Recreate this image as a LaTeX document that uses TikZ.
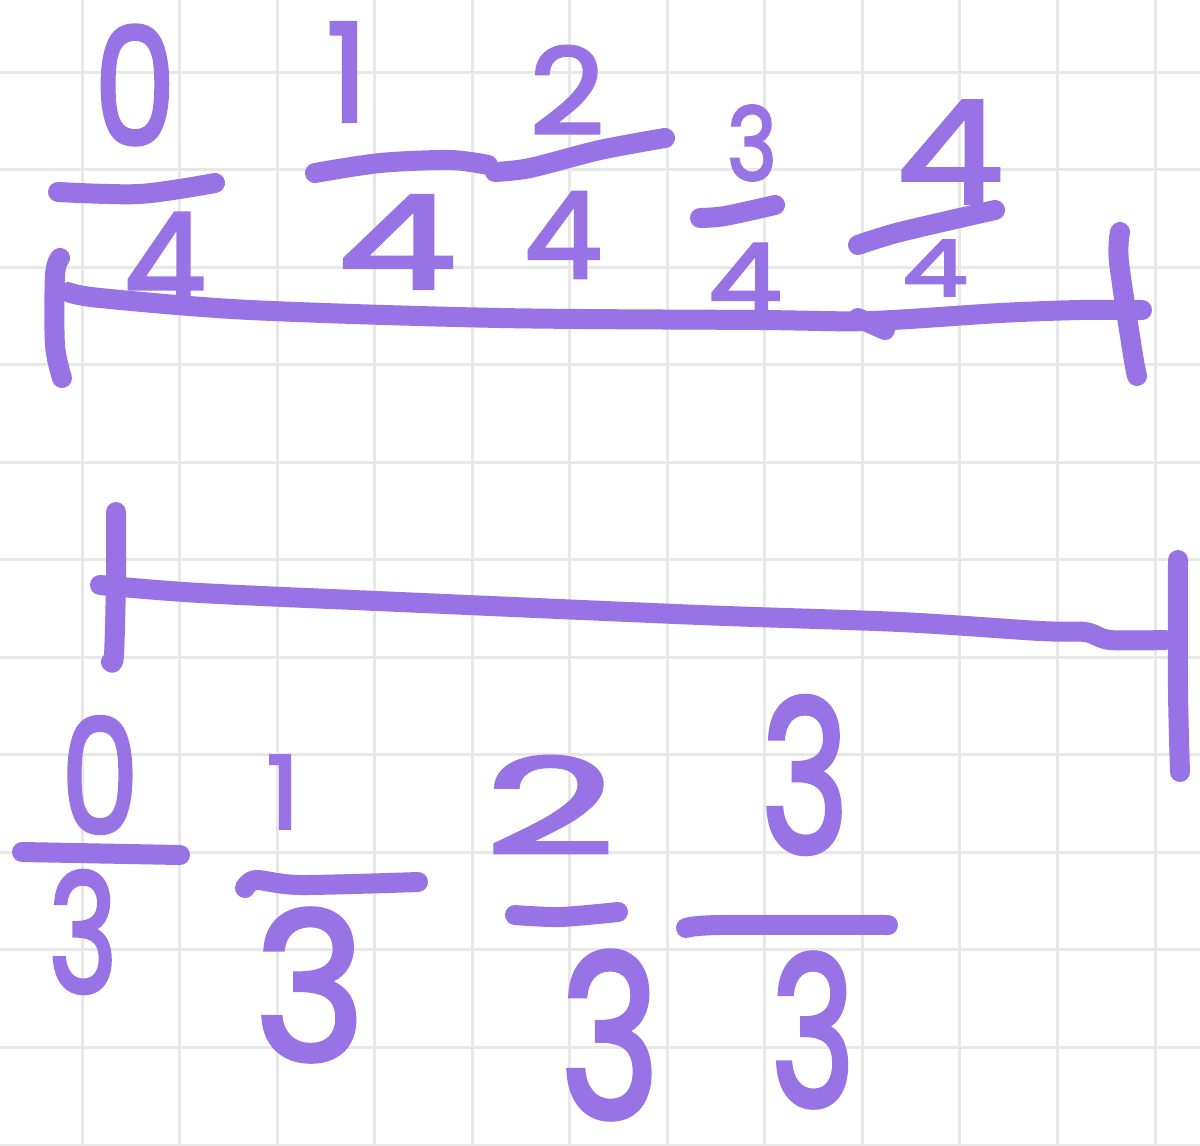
\documentclass[tikz,border=0pt]{standalone}
\usepackage{fontspec}
\newfontfamily\penfont[FakeBold=2.5]{Poppins}
\definecolor{pen}{RGB}{152,115,229}
\definecolor{gridc}{RGB}{232,232,232}
\tikzset{
  stroke/.style={draw=pen, line width=20pt, line cap=round, line join=round},
  digit/.style={text=pen, inner sep=0pt, font=\penfont\fontsize{130}{130}\selectfont},
}
\newcommand{\dg}[3]{\scalebox{#1}[#2]{#3}}
\begin{document}
\begin{tikzpicture}[x=1pt,y=-1pt]
\useasboundingbox (0,0) rectangle (1200,1146);
\fill[white] (0,0) rectangle (1200,1146);
% grid
\foreach \i in {0,...,11} {
  \draw[gridc, line width=3pt] ({82+97.55*\i},0) -- ({82+97.55*\i},1146);
  \draw[gridc, line width=3pt] (0,{72+97.55*\i}) -- (1200,{72+97.55*\i});
}
% top number line
\draw[stroke] plot[smooth] coordinates {(60,258) (55,275) (55,345) (62,378)};
\draw[stroke] plot[smooth] coordinates {(68,292) (100,298) (250,310) (500,318) (760,320) (870,321) (1000,313) (1080,310) (1142,310)};
\draw[stroke] (858,318) -- (885,330);
\draw[stroke] plot[smooth] coordinates {(1120,232) (1119,262) (1133,355) (1137,376)};
% top fractions
\node[digit] (n0t) at (135,85) {\dg{1.0}{1.25}{0}};
\draw[stroke] plot[smooth] coordinates {(58,192) (140,194) (215,183)};
\node[digit] (d0t) at (165,262) {\dg{1.0}{1.05}{4}};
\node[digit] (n1t) at (347,72) {\dg{1.0}{1.05}{1}};
\draw[stroke] plot[smooth] coordinates {(315,173) (380,163) (450,160) (488,165)};
\node[digit] (d1t) at (397,242) {\dg{1.45}{1.0}{4}};
\node[digit] (n2t) at (567,90) {\dg{1.0}{0.92}{2}};
\draw[stroke] plot[smooth] coordinates {(495,172) (530,168) (600,150) (665,138)};
\node[digit] (d2t) at (563,235) {\dg{0.95}{0.92}{4}};
\node[digit] (n3t) at (752,143) {\dg{0.65}{0.78}{3}};
\draw[stroke] plot[smooth] coordinates {(700,218) (725,216) (775,205)};
\node[digit] (d3t) at (745,280) {\dg{0.9}{0.78}{4}};
\node[digit] (n4t) at (950,152) {\dg{1.3}{1.1}{4}};
\draw[stroke] plot[smooth] coordinates {(858,245) (900,232) (995,210)};
\node[digit] (d4t) at (935,268) {\dg{0.8}{0.6}{4}};
% bottom number line
\draw[stroke] plot[smooth] coordinates {(116,512) (116,580) (114,655) (111,662)};
\draw[stroke] plot[smooth] coordinates {(100,585) (200,593) (400,602) (700,615) (900,622) (1040,631) (1085,632) (1110,640) (1165,640)};
\draw[stroke] plot[smooth] coordinates {(1178,560) (1178,690) (1180,772)};
% bottom fractions
\node[digit] (n0b) at (100,775) {\dg{0.95}{1.22}{0}};
\draw[stroke] (22,852) -- (180,855);
\node[digit] (d0b) at (83,932) {\dg{0.9}{1.27}{3}};
\node[digit] (n1b) at (283,792) {\dg{0.8}{0.78}{1}};
\draw[stroke] plot[smooth] coordinates {(245,888) (256,880) (300,885) (418,882)};
\node[digit] (d1b) at (310,985) {\dg{1.45}{1.58}{3}};
\node[digit] (n2b) at (550,805) {\dg{1.75}{1.02}{2}};
\draw[stroke] plot[smooth] coordinates {(515,915) (560,917) (618,912)};
\node[digit] (d2b) at (610,1035) {\dg{1.3}{1.74}{3}};
\node[digit] (n3b) at (805,775) {\dg{1.15}{1.63}{3}};
\draw[stroke] plot[smooth] coordinates {(686,928) (720,925) (888,925)};
\node[digit] (d3b) at (813,1030) {\dg{1.1}{1.6}{3}};
\end{tikzpicture}
\end{document}
